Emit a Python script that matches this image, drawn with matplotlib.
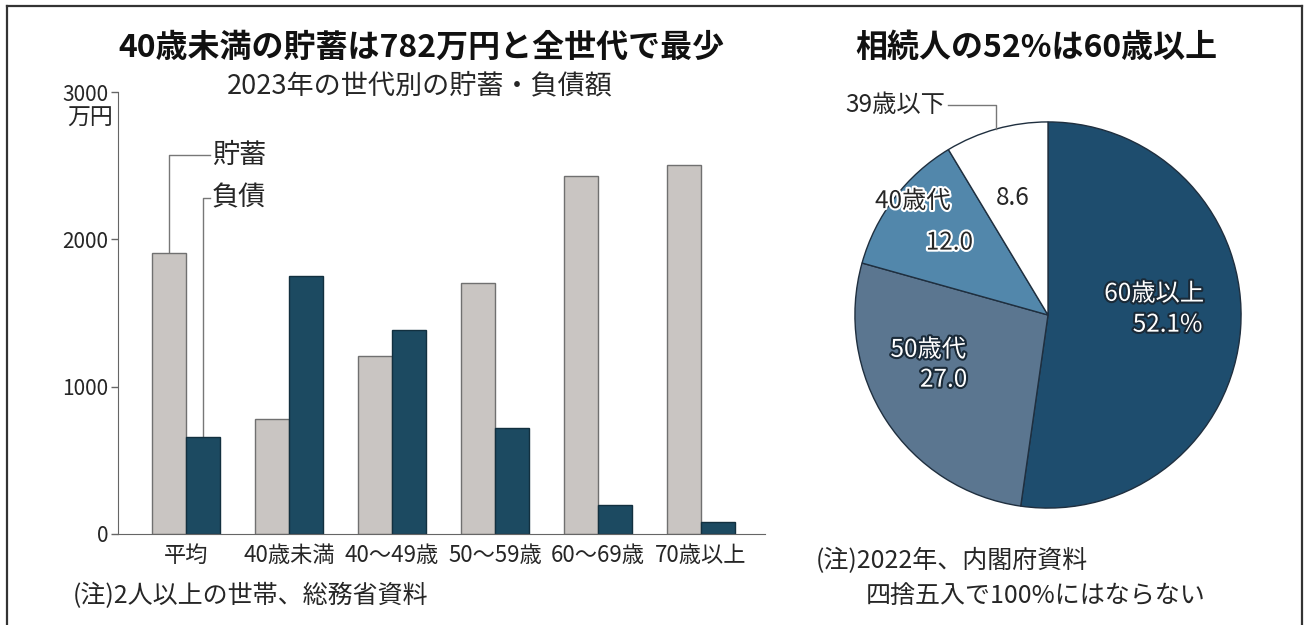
import numpy as np
import matplotlib
matplotlib.use("Agg")
import matplotlib.pyplot as plt
import matplotlib.patheffects as pe
from matplotlib.lines import Line2D

plt.rcParams['font.family'] = ['Noto Sans CJK JP', 'DejaVu Sans']

# 世代別の貯蓄・負債額（万円）
grupos = ["平均", "40歳未満", "40～49歳", "50～59歳", "60～69歳", "70歳以上"]
chochiku = [1904, 782, 1211, 1705, 2432, 2503]
fusai = [655, 1754, 1387, 720, 200, 82]
yticks = [0, 1000, 2000, 3000]

# 相続人の年齢構成（%）
pie_labels = ["60歳以上", "50歳代", "40歳代", "39歳以下"]
pie_values = [52.1, 27.0, 12.0, 8.6]

W, H = 1306, 625
GRAY = "#c9c5c2"
NAVY = "#1c4a61"
TXT = "#262626"

fig = plt.figure(figsize=(W / 100, H / 100), dpi=100)


def fx(px):
    return px / W


def fy(py):
    return 1 - py / H


# 枠線（上・左・右）
for xs, ys in [((7, 7), (6, 625)), ((7, 1302), (6, 6)), ((1302, 1302), (6, 625))]:
    fig.add_artist(Line2D([fx(x) for x in xs], [fy(y) for y in ys],
                          color="#333333", lw=1.6, transform=fig.transFigure))

# ---- 棒グラフ ----
ax = fig.add_axes([fx(118), fy(534), fx(765) - fx(118), fy(92) - fy(534)])
x = np.arange(len(grupos))
w = 0.33
ax.bar(x - w / 2, chochiku, w, color=GRAY, edgecolor="#707070", lw=1.0, zorder=2)
ax.bar(x + w / 2, fusai, w, color=NAVY, edgecolor="#12303f", lw=1.0, zorder=2)
ax.set_xlim(-0.66, 5.62)
ax.set_ylim(0, 3000)
ax.set_yticks(yticks)
ax.set_yticklabels([str(v) for v in yticks], fontsize=15, color=TXT)
ax.set_xticks(x)
ax.set_xticklabels(grupos, fontsize=16, color=TXT)
ax.tick_params(axis="x", length=0, pad=7)
ax.tick_params(axis="y", length=5, width=1, color="#666666", pad=2)
for s in ["top", "right"]:
    ax.spines[s].set_visible(False)
ax.spines["left"].set_color("#666666")
ax.spines["bottom"].set_color("#666666")
ax.spines["left"].set_bounds(0, 3000)

# 凡例の引き出し線
y_c, y_f = 2572, 2281
ax.plot([x[0] - w / 2, x[0] - w / 2, 0.23], [chochiku[0], y_c, y_c],
        color="#777777", lw=1, zorder=1)
ax.plot([x[0] + w / 2, x[0] + w / 2, 0.23], [fusai[0], y_f, y_f],
        color="#777777", lw=1, zorder=1)
ax.text(0.25, y_c, "貯蓄", fontsize=19.5, color=TXT, va="center", ha="left")
ax.text(0.25, y_f, "負債", fontsize=19.5, color=TXT, va="center", ha="left")

fig.text(fx(90), fy(118), "万円", fontsize=16.5, color=TXT, ha="center", va="center")
fig.text(fx(421), fy(48), "40歳未満の貯蓄は782万円と全世代で最少",
         fontsize=23, fontweight="bold", color="#111111", ha="center", va="center")
fig.text(fx(420), fy(86), "2023年の世代別の貯蓄・負債額",
         fontsize=19.5, color=TXT, ha="center", va="center")
fig.text(fx(73), fy(596), "(注)2人以上の世帯、総務省資料",
         fontsize=18, color=TXT, ha="left", va="center")

# ---- 円グラフ ----
r = 195
axp = fig.add_axes([fx(1048 - r), fy(315 + r), fx(2 * r), 2 * r / H])
colores = ["#1e4d6e", "#5b7690", "#5287ab", "#ffffff"]
wedges, _ = axp.pie(pie_values, colors=colores, startangle=90, counterclock=False,
                    radius=1, wedgeprops=dict(edgecolor="#1f2f3f", linewidth=1.0))
axp.set_xlim(-1.01, 1.01)
axp.set_ylim(-1.01, 1.01)
axp.set_aspect("equal")
axp.axis("off")

blanco = [pe.withStroke(linewidth=3, foreground="#1a2a38")]
oscuro = [pe.withStroke(linewidth=3, foreground="white")]

axp.text(0.55, 0.11, "60歳以上", fontsize=17.5, color="white", ha="center",
         va="center", path_effects=blanco)
axp.text(0.62, -0.05, f"{pie_values[0]}%", fontsize=17.5, color="white", ha="center",
         va="center", path_effects=blanco)
axp.text(-0.62, -0.18, "50歳代", fontsize=17.5, color="white", ha="center",
         va="center", path_effects=blanco)
axp.text(-0.54, -0.335, f"{pie_values[1]}", fontsize=17.5, color="white", ha="center",
         va="center", path_effects=blanco)
axp.text(-0.70, 0.59, "40歳代", fontsize=17.5, color=TXT, ha="center",
         va="center", path_effects=oscuro)
axp.text(-0.51, 0.375, f"{pie_values[2]}", fontsize=17.5, color=TXT, ha="center",
         va="center", path_effects=oscuro)
axp.text(-0.18, 0.605, f"{pie_values[3]}", fontsize=17.5, color=TXT, ha="center",
         va="center")

# 39歳以下の引き出し線
wb = wedges[3]
mid = np.deg2rad((wb.theta1 + wb.theta2) / 2)
ex, ey = np.cos(mid), np.sin(mid)
axp.plot([-0.52, ex, ex], [1.087, 1.087, ey], color="#777777", lw=1, clip_on=False)
axp.text(-0.535, 1.087, "39歳以下", fontsize=17.5, color=TXT, ha="right",
         va="center", clip_on=False)

fig.text(fx(1036), fy(48), "相続人の52%は60歳以上",
         fontsize=23, fontweight="bold", color="#111111", ha="center", va="center")
fig.text(fx(816), fy(561), "(注)2022年、内閣府資料",
         fontsize=18, color=TXT, ha="left", va="center")
fig.text(fx(866), fy(596), "四捨五入で100%にはならない",
         fontsize=18, color=TXT, ha="left", va="center")

fig.savefig("out.png", dpi=100)
